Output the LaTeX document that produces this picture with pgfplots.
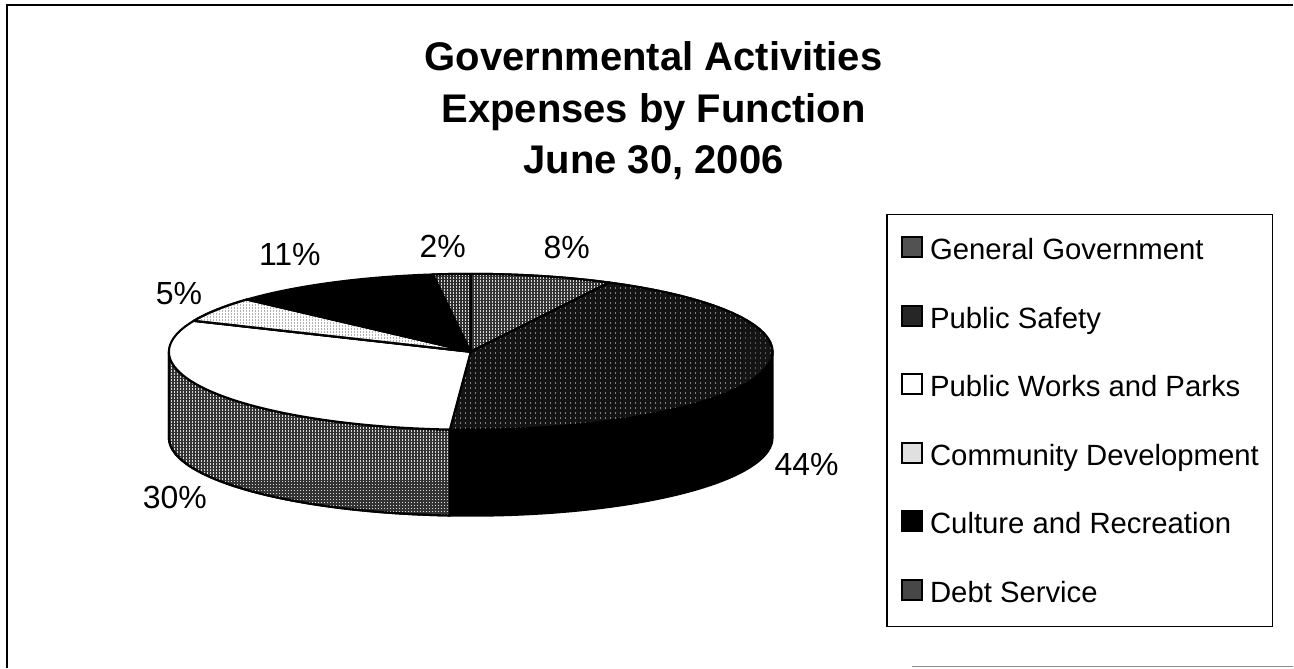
\documentclass[border=0pt]{standalone}
\usepackage{fontspec}
\setmainfont{Liberation Sans}
\usepackage{pgfplots}
\usepackage{pgfplotstable}
\pgfplotsset{compat=1.18}
\usetikzlibrary{patterns}

% Halftone screens used on the slices
\pgfdeclarepatternformonly{grain}{\pgfqpoint{0pt}{0pt}}{\pgfqpoint{1.2pt}{1.2pt}}{\pgfqpoint{3pt}{3pt}}%
  {\pgfpathrectangle{\pgfpointorigin}{\pgfqpoint{1.2pt}{1.2pt}}\pgfusepath{fill}}
\pgfdeclarepatternformonly{stipple}{\pgfqpoint{0pt}{0pt}}{\pgfqpoint{1.2pt}{1.2pt}}{\pgfqpoint{5pt}{5pt}}%
  {\pgfpathrectangle{\pgfpointorigin}{\pgfqpoint{1.2pt}{1.2pt}}\pgfusepath{fill}}

% Shares of expenses, in per cent; rounded they give the printed labels
\pgfplotstableread[col sep=comma]{
name,share
General Government,7.6
Public Safety,43.5
Public Works and Parks,30.4
Community Development,5.2
Culture and Recreation,11.3
Debt Service,2.0
}\shares

\newcommand\getshare[2]{\pgfplotstablegetelem{#1}{share}\of\shares\pgfmathsetmacro#2{\pgfplotsretval}}
\getshare{0}\sA \getshare{1}\sB \getshare{2}\sC \getshare{3}\sD \getshare{4}\sE \getshare{5}\sF
\pgfmathsetmacro\cA{\sA}
\pgfmathsetmacro\cB{\cA+\sB}
\pgfmathsetmacro\cC{\cB+\sC}
\pgfmathsetmacro\cD{\cC+\sD}
\pgfmathsetmacro\cE{\cD+\sE}

% Pie geometry on the pixel grid of the axis
\def\cx{471}\def\cy{352}\def\rx{302}\def\ry{78}\def\depth{86}

% Appends to \pts an elliptical arc between two cumulative shares at centre height #3
\newcommand\arcpts[3]{%
  \foreach \i in {0,...,48}{%
    \pgfmathsetmacro\t{(#1+(#2-#1)*\i/48)*3.6}%
    \pgfmathsetmacro\px{\cx+\rx*sin(\t)}%
    \pgfmathsetmacro\py{#3-\ry*cos(\t)}%
    \xdef\pts{\pts (\px,\py)}%
  }}
\newcommand\topface[3]{%
  \gdef\pts{}\arcpts{#1}{#2}{\cy}%
  \edef\tmp{\noexpand\addplot[forget plot,\unexpanded{#3}] coordinates {\pts (\cx,\cy)} -- cycle;}\tmp}
\newcommand\sideface[3]{%
  \pgfmathsetmacro\lowy{\cy+\depth}%
  \gdef\pts{}\arcpts{#1}{#2}{\cy}\arcpts{#2}{#1}{\lowy}%
  \edef\tmp{\noexpand\addplot[forget plot,\unexpanded{#3}] coordinates {\pts} -- cycle;}\tmp}

\pgfplotsset{
  outline/.style={draw=black,line width=2.1pt,line join=round,no marks},
  genstyle/.style={preaction={fill=black!80},pattern=grain,pattern color=black!15},
  safestyle/.style={preaction={fill=black!92},pattern=stipple,pattern color=black!50},
  commstyle/.style={preaction={fill=white},pattern=grain,pattern color=black!30},
  debtstyle/.style={preaction={fill=black!82},pattern=grain,pattern color=black!15},
}
% key swatch with its own paint; the frame is stroked last
\newcommand\swatchimage[1]{\addlegendimage{legend image code/.code={%
  \path[#1] (0pt,-8pt) rectangle (20pt,12pt);
  \path[draw=black,fill=none,line width=2pt] (0pt,-8pt) rectangle (20pt,12pt);}}}

\begin{document}
\begin{tikzpicture}
\begin{axis}[
  x=1pt,y=1pt,xmin=0,xmax=1294,ymin=0,ymax=668,y dir=reverse,
  hide axis,clip=false,
  legend cell align=left,
  legend style={
    at={(axis cs:887,214)},anchor=north west,
    draw=black,line width=1.3pt,fill=white,
    font=\fontsize{29.3}{32}\selectfont,
    inner xsep=14pt,inner ysep=21pt,
    row sep=41.6pt,
    nodes={inner sep=0pt,text height=24pt,text depth=3pt},
    /tikz/every odd column/.append style={column sep=7pt},
  },
]
% full page extent
\path (axis cs:0,0) (axis cs:1294,668);

% page frame
\addplot[forget plot,no marks,black,line width=1.6pt] coordinates {(1294,5) (7,5) (7,668)};
\addplot[forget plot,no marks,black!45,line width=1.2pt] coordinates {(913,667) (1294,667)};

% rim of the pie
\sideface{25}{\cB}{fill=black,outline}
\sideface{\cB}{75}{outline,genstyle}

% top of the pie
\topface{0}{\cA}{outline,genstyle}
\topface{\cA}{\cB}{outline,safestyle}
\topface{\cB}{\cC}{fill=white,outline}
\topface{\cC}{\cD}{outline,commstyle}
\topface{\cD}{\cE}{fill=black,outline}
\topface{\cE}{100}{outline,debtstyle}

% percentage labels
\begin{scope}[every node/.style={font=\fontsize{32}{34}\selectfont,inner sep=0pt,anchor=center}]
\node at (axis cs:567,248) {8\%};
\node at (axis cs:807,465) {44\%};
\node at (axis cs:175,498) {30\%};
\node at (axis cs:179,294) {5\%};
\node at (axis cs:290,255) {11\%};
\node at (axis cs:443,247) {2\%};
\end{scope}

% heading
\node[font=\bfseries\fontsize{40}{51.5}\selectfont,align=center,inner sep=0pt,anchor=center]
  at (axis cs:654,111) {Governmental Activities\\Expenses by Function\\June 30, 2006};

% key
\swatchimage{fill=black!68}\addlegendentry{General Government}
\swatchimage{fill=black!85}\addlegendentry{Public Safety}
\swatchimage{fill=white}\addlegendentry{Public Works and Parks}
\swatchimage{fill=black!12}\addlegendentry{Community Development}
\swatchimage{fill=black}\addlegendentry{Culture and Recreation}
\swatchimage{fill=black!72}\addlegendentry{Debt Service}
\end{axis}
\end{tikzpicture}
\end{document}
